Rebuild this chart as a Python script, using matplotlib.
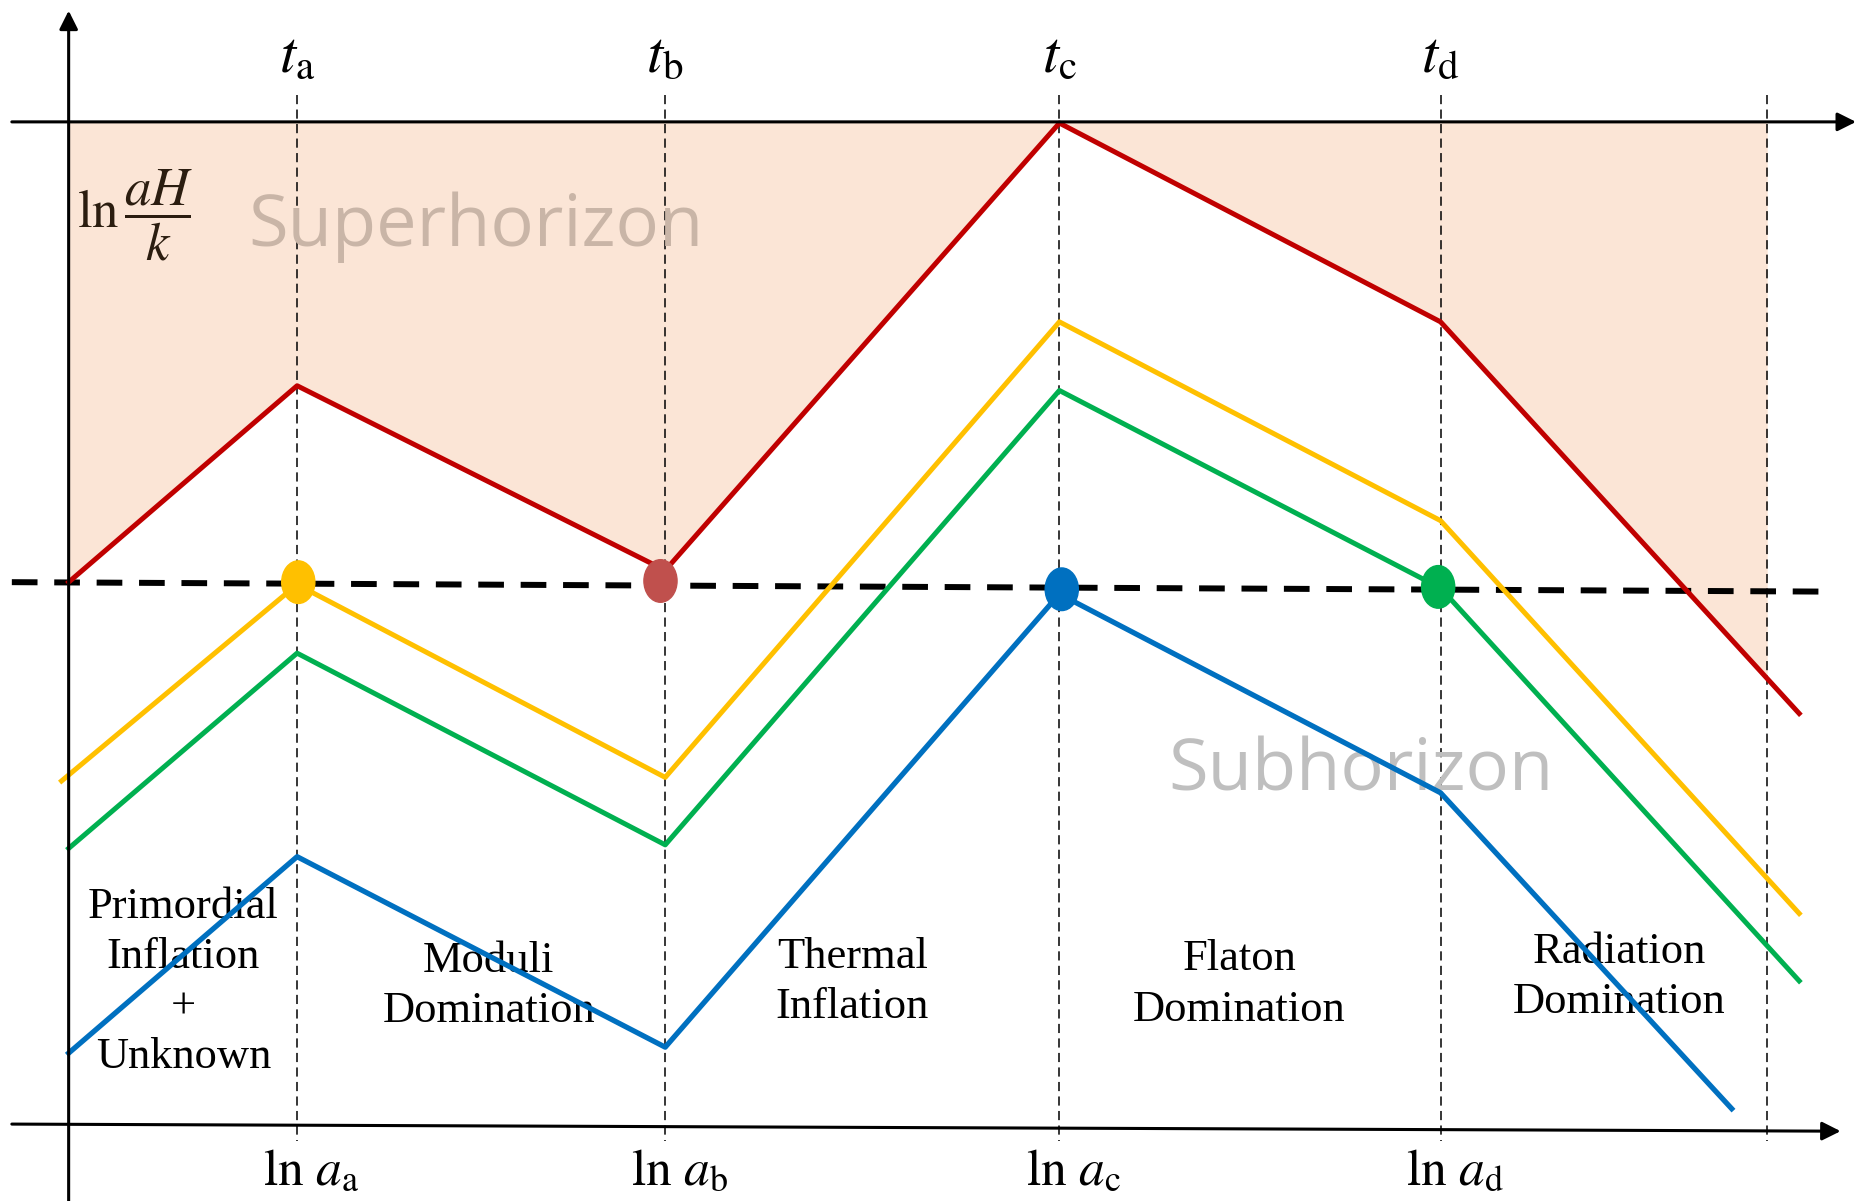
#   plot.py ~~
#
#   Sketch of ln(aH/k) against ln a for four comoving scales through five
#   cosmological eras, with the horizon crossings marked.

import matplotlib
matplotlib.use("Agg")
import matplotlib.pyplot as pyplot
from matplotlib.patches import Ellipse
import numpy as np

###

#   Ends of each era in ln a (a, b, c, d), and the right edge of the sketch.

era_ends = [2.51, 5.62, 8.95, 12.17]
era_names = ["a", "b", "c", "d"]
sketch_end = 14.93

#   ln(aH/k) at the era boundaries for the four scales.

red_x = [0.58, 2.51, 5.62, 8.95, 12.17, 15.20]
red_y = [0.00, 1.66, 0.10, 3.88, 2.20, -1.11]

yellow_x = [0.52, 2.51, 5.62, 8.95, 12.17, 15.20]
yellow_y = [-1.68, -0.02, -1.65, 2.20, 0.52, -2.80]

green_x = [0.58, 2.51, 5.62, 8.95, 12.17, 15.20]
green_y = [-2.25, -0.60, -2.22, 1.62, -0.05, -3.37]

blue_x = [0.58, 2.51, 5.62, 8.95, 12.17, 14.63]
blue_y = [-3.98, -2.32, -3.93, -0.10, -1.78, -4.45]

#   Horizon crossings (one per scale).

cross_x = [2.52, 5.58, 8.97, 12.15]
cross_y = [0.00, 0.01, -0.06, -0.04]

eras = ["Primordial\nInflation\n+\nUnknown", "Moduli\nDomination",
        "Thermal\nInflation", "Flaton\nDomination", "Radiation\nDomination"]

###

def draw(ax):

    top = 3.89          # ln(aH/k) axis top line

  # Superhorizon shading between the red line and the top line.

    xs = np.linspace(red_x[0], sketch_end, 400)
    ys = np.interp(xs, red_x, red_y)
    ax.fill_between(xs, ys, top, color="#FBE5D6", lw=0, zorder=1)

  # Axes with arrow heads.

    arrow = dict(arrowstyle="-|>", color="black", lw=2.2, mutation_scale=28,
        shrinkA=0, shrinkB=0)
    ax.annotate("", xy=(0.58, 4.83), xytext=(0.58, -5.3), arrowprops=arrow,
        zorder=6)
    ax.annotate("", xy=(15.68, top), xytext=(0.10, top), arrowprops=arrow,
        zorder=6)
    ax.annotate("", xy=(15.55, -4.64), xytext=(0.10, -4.58),
        arrowprops=arrow, zorder=6)

  # Era boundaries.

    for x in era_ends + [sketch_end]:
        ax.plot([x, x], [4.12, -4.72], color="black", lw=1.1,
            dashes=(6, 3.5), zorder=2)

  # Horizon line.

    ax.plot([0.10, 15.45], [0.00, -0.08], color="black", lw=4.3,
        dashes=(4.3, 2.8), dash_capstyle="butt", zorder=3)

  # The four scales.

    ax.plot(red_x, red_y, color="#C00000", lw=3.6, zorder=4)
    ax.plot(yellow_x, yellow_y, color="#FFC000", lw=3.6, zorder=4)
    ax.plot(green_x, green_y, color="#00B050", lw=3.6, zorder=4)
    ax.plot(blue_x, blue_y, color="#0070C0", lw=3.8, zorder=4)

    for x, y, c in zip(cross_x, cross_y,
            ["#FFC000", "#C0504D", "#0070C0", "#00B050"]):
        ax.add_patch(Ellipse((x, y), 0.28, 0.36, color=c, zorder=5))

  # Labels.

    for x, name in zip(era_ends, era_names):
        ax.text(x, 4.45, r"$t_{\mathrm{%s}}$" % name, fontsize=42,
            ha="center", va="center")
        ax.text(x + 0.12, -4.98, r"$\ln\,a_{\mathrm{%s}}$" % name,
            fontsize=37, ha="center", va="center")

    ax.text(1.14, 3.10, r"$\ln\dfrac{aH}{k}$", fontsize=38, color="#2B1D10",
        ha="center", va="center")

    ax.text(4.02, 3.00, "Superhorizon", fontsize=52, color="#C9B5A7",
        family="Open Sans", ha="center", va="center", zorder=2)
    ax.text(11.50, -1.60, "Subhorizon", fontsize=52, color="#BFBFBF",
        family="Open Sans", ha="center", va="center", zorder=2)

    for x, y, s in zip([1.55, 4.13, 7.20, 10.47, 13.68],
            [-3.38, -3.41, -3.38, -3.40, -3.34], eras):
        ax.text(x, y, s, fontsize=32, family="Liberation Serif",
            ha="center", va="center", linespacing=1.33, zorder=2)

###

def main():

    pyplot.rcParams["mathtext.fontset"] = "stix"

    fig = pyplot.figure(figsize=(18.56, 12.01), dpi=100)
    ax = fig.add_axes([0, 0, 1, 1])
    ax.set_xlim(0, 15.68)
    ax.set_ylim(-5.23, 4.92)
    ax.axis("off")

    draw(ax)

    fig.savefig("out.png", dpi=100)

###

if __name__ == "__main__":
    main()
